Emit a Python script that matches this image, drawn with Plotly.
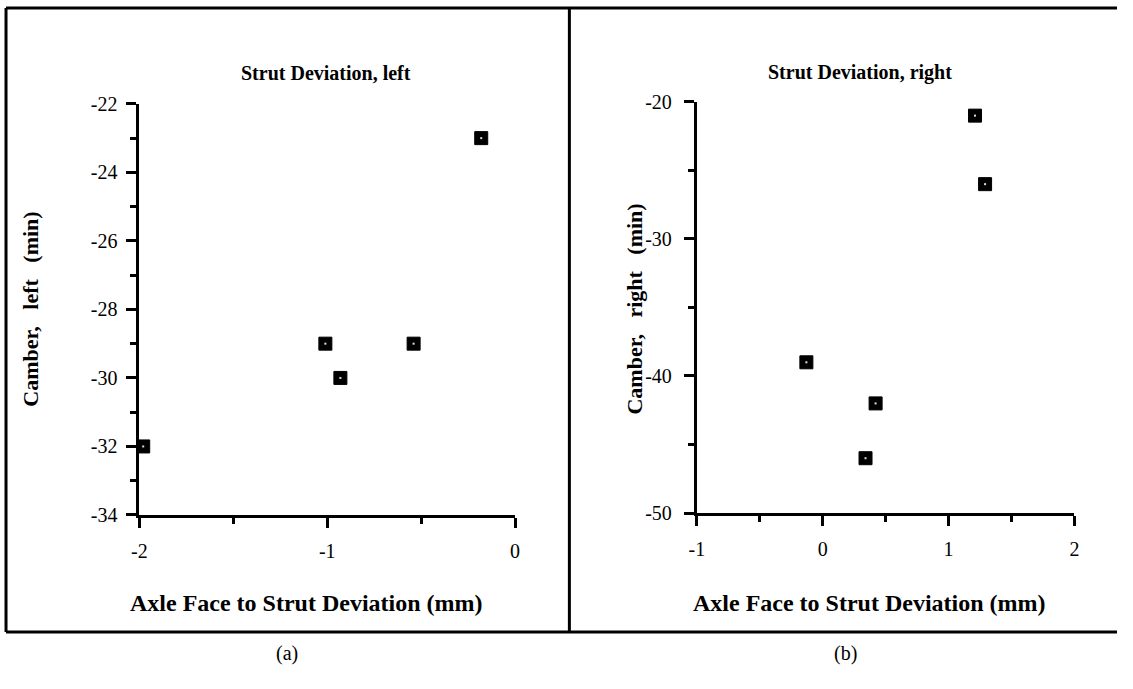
import plotly.graph_objects as go

# Data
left_x = [-1.98, -1.01, -0.93, -0.54, -0.18]
left_y = [-32, -29, -30, -29, -23]
right_x = [-0.13, 0.34, 0.42, 1.21, 1.29]
right_y = [-39, -46, -42, -21, -26]

left_xticks = [-2, -1, 0]
left_yticks = [-34, -32, -30, -28, -26, -24, -22]
right_xticks = [-1, 0, 1, 2]
right_yticks = [-50, -40, -30, -20]

OFF = 8  # page body margin
W, H = 1133 - 2 * OFF, 689 - 2 * OFF
def px(x): return (x - OFF) / W
def py(y): return 1 - (y - OFF) / H

SERIF = "Liberation Serif"
fig = go.Figure()
mk = dict(symbol="square", size=13, color="black", line=dict(color="black", width=1))
dot = dict(symbol="square", size=2, color="#dddddd", line=dict(width=0))
for xs, ys, xr, yr in [(left_x, left_y, "x", "y"), (right_x, right_y, "x2", "y2")]:
    fig.add_trace(go.Scatter(x=xs, y=ys, mode="markers", marker=mk, xaxis=xr, yaxis=yr,
                             cliponaxis=False, showlegend=False, hoverinfo="x+y"))
    fig.add_trace(go.Scatter(x=xs, y=ys, mode="markers", marker=dot, xaxis=xr, yaxis=yr,
                             cliponaxis=False, showlegend=False, hoverinfo="skip"))

def ax(domain, rng, ticks, mdtick, anchor):
    return dict(domain=domain, range=rng, tickmode="array", tickvals=ticks,
                ticktext=[str(t) for t in ticks], anchor=anchor,
                showgrid=False, zeroline=False, showline=True, linecolor="black",
                linewidth=3, ticks="outside", ticklen=10, tickwidth=3, tickcolor="black",
                minor=dict(ticks="outside", ticklen=6, tickwidth=3, tickcolor="black",
                           dtick=mdtick, tick0=rng[0], showgrid=False),
                tickfont=dict(family=SERIF, size=20, color="black"), fixedrange=True)

xa = ax([px(141), px(521)], [-2, 0], left_xticks, 0.5, "y")
ya = ax([py(529), py(104)], [-34, -22], left_yticks, 1, "x")
xa2 = ax([px(705), px(1087)], [-1, 2], right_xticks, 0.5, "y2")
ya2 = ax([py(527), py(102)], [-50, -20], right_yticks, 5, "x2")
xa["ticklabelstandoff"] = 6
xa2["ticklabelstandoff"] = 6
ya["ticklabelstandoff"] = 5
ya2["ticklabelstandoff"] = 8

fig.update_layout(width=W, height=H, margin=dict(l=0, r=0, t=0, b=0),
                  paper_bgcolor="white", plot_bgcolor="white",
                  xaxis=xa, yaxis=ya, xaxis2=xa2, yaxis2=ya2)

def note(text, x, y, size, angle=0):
    fig.add_annotation(text=text, x=px(x), y=py(y), xref="paper", yref="paper",
                       showarrow=False, textangle=angle,
                       font=dict(family=SERIF, size=size, color="black"),
                       xanchor="center", yanchor="middle")

note("<b>Strut Deviation, left</b>", 330, 72, 20)
note("<b>Strut Deviation, right</b>", 870, 72, 20)
note("<b>Axle Face to Strut Deviation (mm)</b>", 310, 620, 24)
note("<b>Axle Face to Strut Deviation (mm)</b>", 880, 620, 24)
note("<b>Camber,   left   (min)</b>", 31, 316, 22, angle=-90)
note("<b>Camber,   right   (min)</b>", 642, 316, 22, angle=-90)
note("(a)", 290, 672, 20)
note("(b)", 855, 672, 20)

line = dict(color="black", width=3)
for x0, y0, x1, y1 in [(6, 5, 1133, 5), (6, 5, 6, 650), (6, 650, 1133, 650), (576, 5, 576, 650)]:
    fig.add_shape(type="line", xref="paper", yref="paper",
                  x0=px(x0), y0=py(y0), x1=px(x1), y1=py(y1), line=line)

fig.write_html("out.html")
